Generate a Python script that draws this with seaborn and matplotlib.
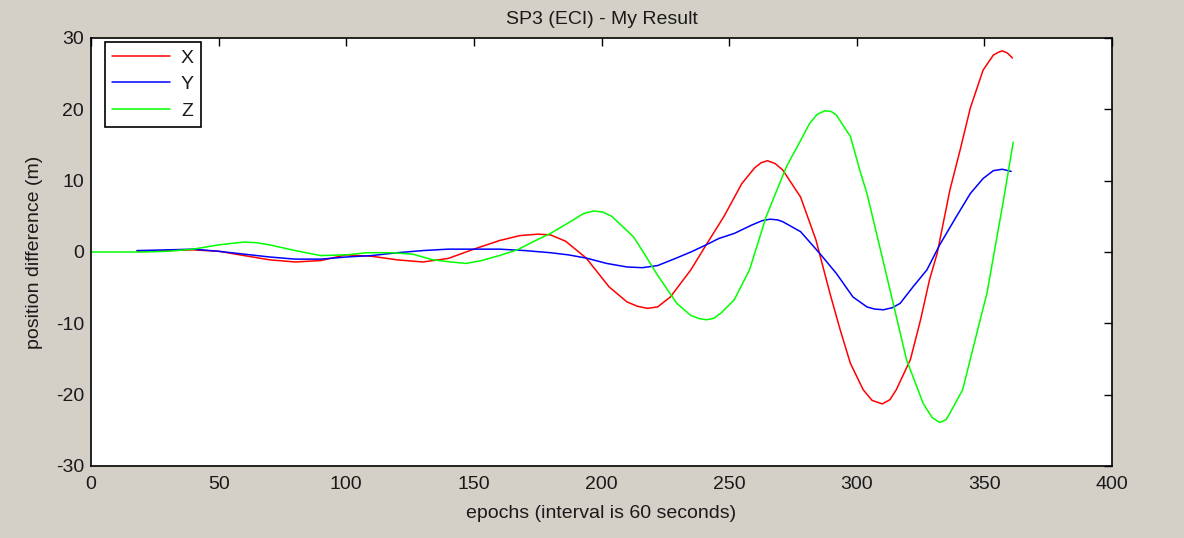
import matplotlib
matplotlib.use("Agg")
import matplotlib.pyplot as plt
import seaborn as sns
import pandas as pd

# ---- data ----
epochs_x = [18, 30, 40, 50, 60, 70, 80, 90, 100, 110, 120, 130, 140, 150, 160, 168, 175, 180, 186, 194,
            203, 210, 214, 218, 222, 227, 235, 241, 248, 255, 260, 262.5, 265, 268, 271, 278, 284, 289.5,
            293.5, 297.5, 302.5, 306, 310, 313, 315.5, 321, 325, 328.5, 331.5, 336.5, 340.5, 344.5,
            349.5, 353.5, 355.5, 357, 359, 361]
values_x = [0.1, 0.2, 0.3, 0.1, -0.5, -1.1, -1.4, -1.2, -0.4, -0.6, -1.1, -1.4, -0.9, 0.4, 1.6, 2.3, 2.5,
            2.4, 1.5, -0.85, -4.9, -7.0, -7.6, -7.9, -7.7, -6.3, -2.5, 1.0, 5.0, 9.6, 11.8, 12.5, 12.8,
            12.4, 11.5, 7.7, 1.7, -5.8, -10.9, -15.6, -19.3, -20.8, -21.3, -20.7, -19.3, -15.1, -9.5,
            -3.9, -0.2, 8.7, 14.3, 20.2, 25.5, 27.6, 28.0, 28.2, 27.9, 27.2]

epochs_y = [18, 30, 40, 50, 60, 70, 80, 90, 100, 110, 120, 130, 140, 150, 160, 170, 180, 187, 194, 202,
            210, 216, 222, 229, 235, 241, 246, 252, 259, 263, 266, 269, 271, 278, 285.5, 292, 298.5, 304,
            307, 310.5, 314, 317, 322, 327.5, 332.5, 339, 344.5, 349.5, 353.5, 357, 360.5]
values_y = [0.2, 0.3, 0.4, 0.1, -0.3, -0.7, -1.0, -1.0, -0.7, -0.5, -0.1, 0.2, 0.4, 0.4, 0.4, 0.2, -0.1,
            -0.4, -0.85, -1.6, -2.1, -2.2, -1.9, -0.9, 0.0, 1.0, 1.9, 2.6, 3.8, 4.4, 4.6, 4.5, 4.25, 2.85,
            -0.2, -3.0, -6.3, -7.7, -8.0, -8.1, -7.8, -7.2, -4.9, -2.5, 1.0, 4.95, 8.2, 10.3, 11.4, 11.6,
            11.3]

epochs_z = [0, 10, 20, 30, 40, 50, 60, 65, 70, 80, 90, 100, 108, 118, 126, 134, 141, 147, 153, 160, 167,
            173, 180, 188, 193, 197, 200.5, 204, 212.5, 217.5, 221.5, 229.5, 235, 238, 241, 244, 247, 252,
            258, 264.5, 272.5, 277.5, 281.5, 284.5, 287.5, 290, 292, 297.5, 301.5, 304, 311.5, 319.5, 326,
            329.5, 332.5, 335, 336.5, 341.5, 348, 351, 357.5, 361.3]
values_z = [0.0, 0.0, 0.0, 0.1, 0.4, 1.0, 1.4, 1.3, 1.0, 0.2, -0.5, -0.4, -0.1, -0.1, -0.3, -1.1, -1.4,
            -1.6, -1.2, -0.5, 0.3, 1.4, 2.6, 4.3, 5.4, 5.75, 5.6, 5.0, 2.15, -0.65, -3.0, -7.2, -8.9,
            -9.3, -9.5, -9.3, -8.5, -6.7, -2.5, 4.95, 12.0, 15.3, 18.0, 19.3, 19.8, 19.7, 19.2, 16.2, 11.1,
            8.2, -3.0, -15.1, -21.2, -23.2, -23.9, -23.5, -22.6, -19.3, -10.0, -5.8, 7.3, 15.4]

series_names = ["X", "Y", "Z"]
series_colors = ["#ff0000", "#0000ff", "#00ff00"]

x_ticks = [0, 50, 100, 150, 200, 250, 300, 350, 400]
y_ticks = [-30, -20, -10, 0, 10, 20, 30]

title = "SP3 (ECI) - My Result"
x_label = "epochs (interval is 60 seconds)"
y_label = "position difference (m)"

df = pd.concat([
    pd.DataFrame({"epoch": epochs_x, "value": values_x, "series": "X"}),
    pd.DataFrame({"epoch": epochs_y, "value": values_y, "series": "Y"}),
    pd.DataFrame({"epoch": epochs_z, "value": values_z, "series": "Z"}),
], ignore_index=True)

sns.set_theme(style="white")
plt.rcParams["font.family"] = ["Liberation Sans", "DejaVu Sans"]
plt.rcParams["axes.unicode_minus"] = False

bg = "#d4d0c8"
fig = plt.figure(figsize=(11.84, 5.38), dpi=100, facecolor=bg)
ax = fig.add_axes([91 / 1184, 1 - 466 / 538, (1112 - 91) / 1184, (466 - 38) / 538])
ax.set_facecolor("white")

sns.lineplot(data=df, x="epoch", y="value", hue="series", hue_order=series_names,
             palette=dict(zip(series_names, series_colors)), estimator=None, sort=False,
             linewidth=1.1, ax=ax)

ax.set_xlim(0, 400)
ax.set_ylim(-30, 30)
ax.set_xticks(x_ticks)
ax.set_yticks(y_ticks)
ax.tick_params(direction="in", length=6, width=1, colors="black", top=True, right=True,
               labelsize=14, labelcolor="#1a1a1a")
ax.tick_params(axis="x", pad=7)
ax.tick_params(axis="y", pad=5)
for s in ax.spines.values():
    s.set_color("black")
    s.set_linewidth(1.2)

ax.set_title(title, fontsize=14, color="#1a1a1a", pad=10)
ax.set_xlabel(x_label, fontsize=14, color="#1a1a1a", labelpad=9)
ax.set_ylabel(y_label, fontsize=14, color="#1a1a1a", labelpad=9)

leg = ax.legend(loc="upper left", bbox_to_anchor=(0.010, 0.999), frameon=True, fancybox=False,
                edgecolor="black", fontsize=14, handlelength=3.0, handletextpad=0.55,
                borderpad=0.35, labelspacing=0.46, borderaxespad=0.2)
leg.get_frame().set_linewidth(1.2)
leg.get_frame().set_alpha(1)
for t in leg.get_texts():
    t.set_color("#1a1a1a")

fig.savefig("out.png", dpi=100, facecolor=bg)
